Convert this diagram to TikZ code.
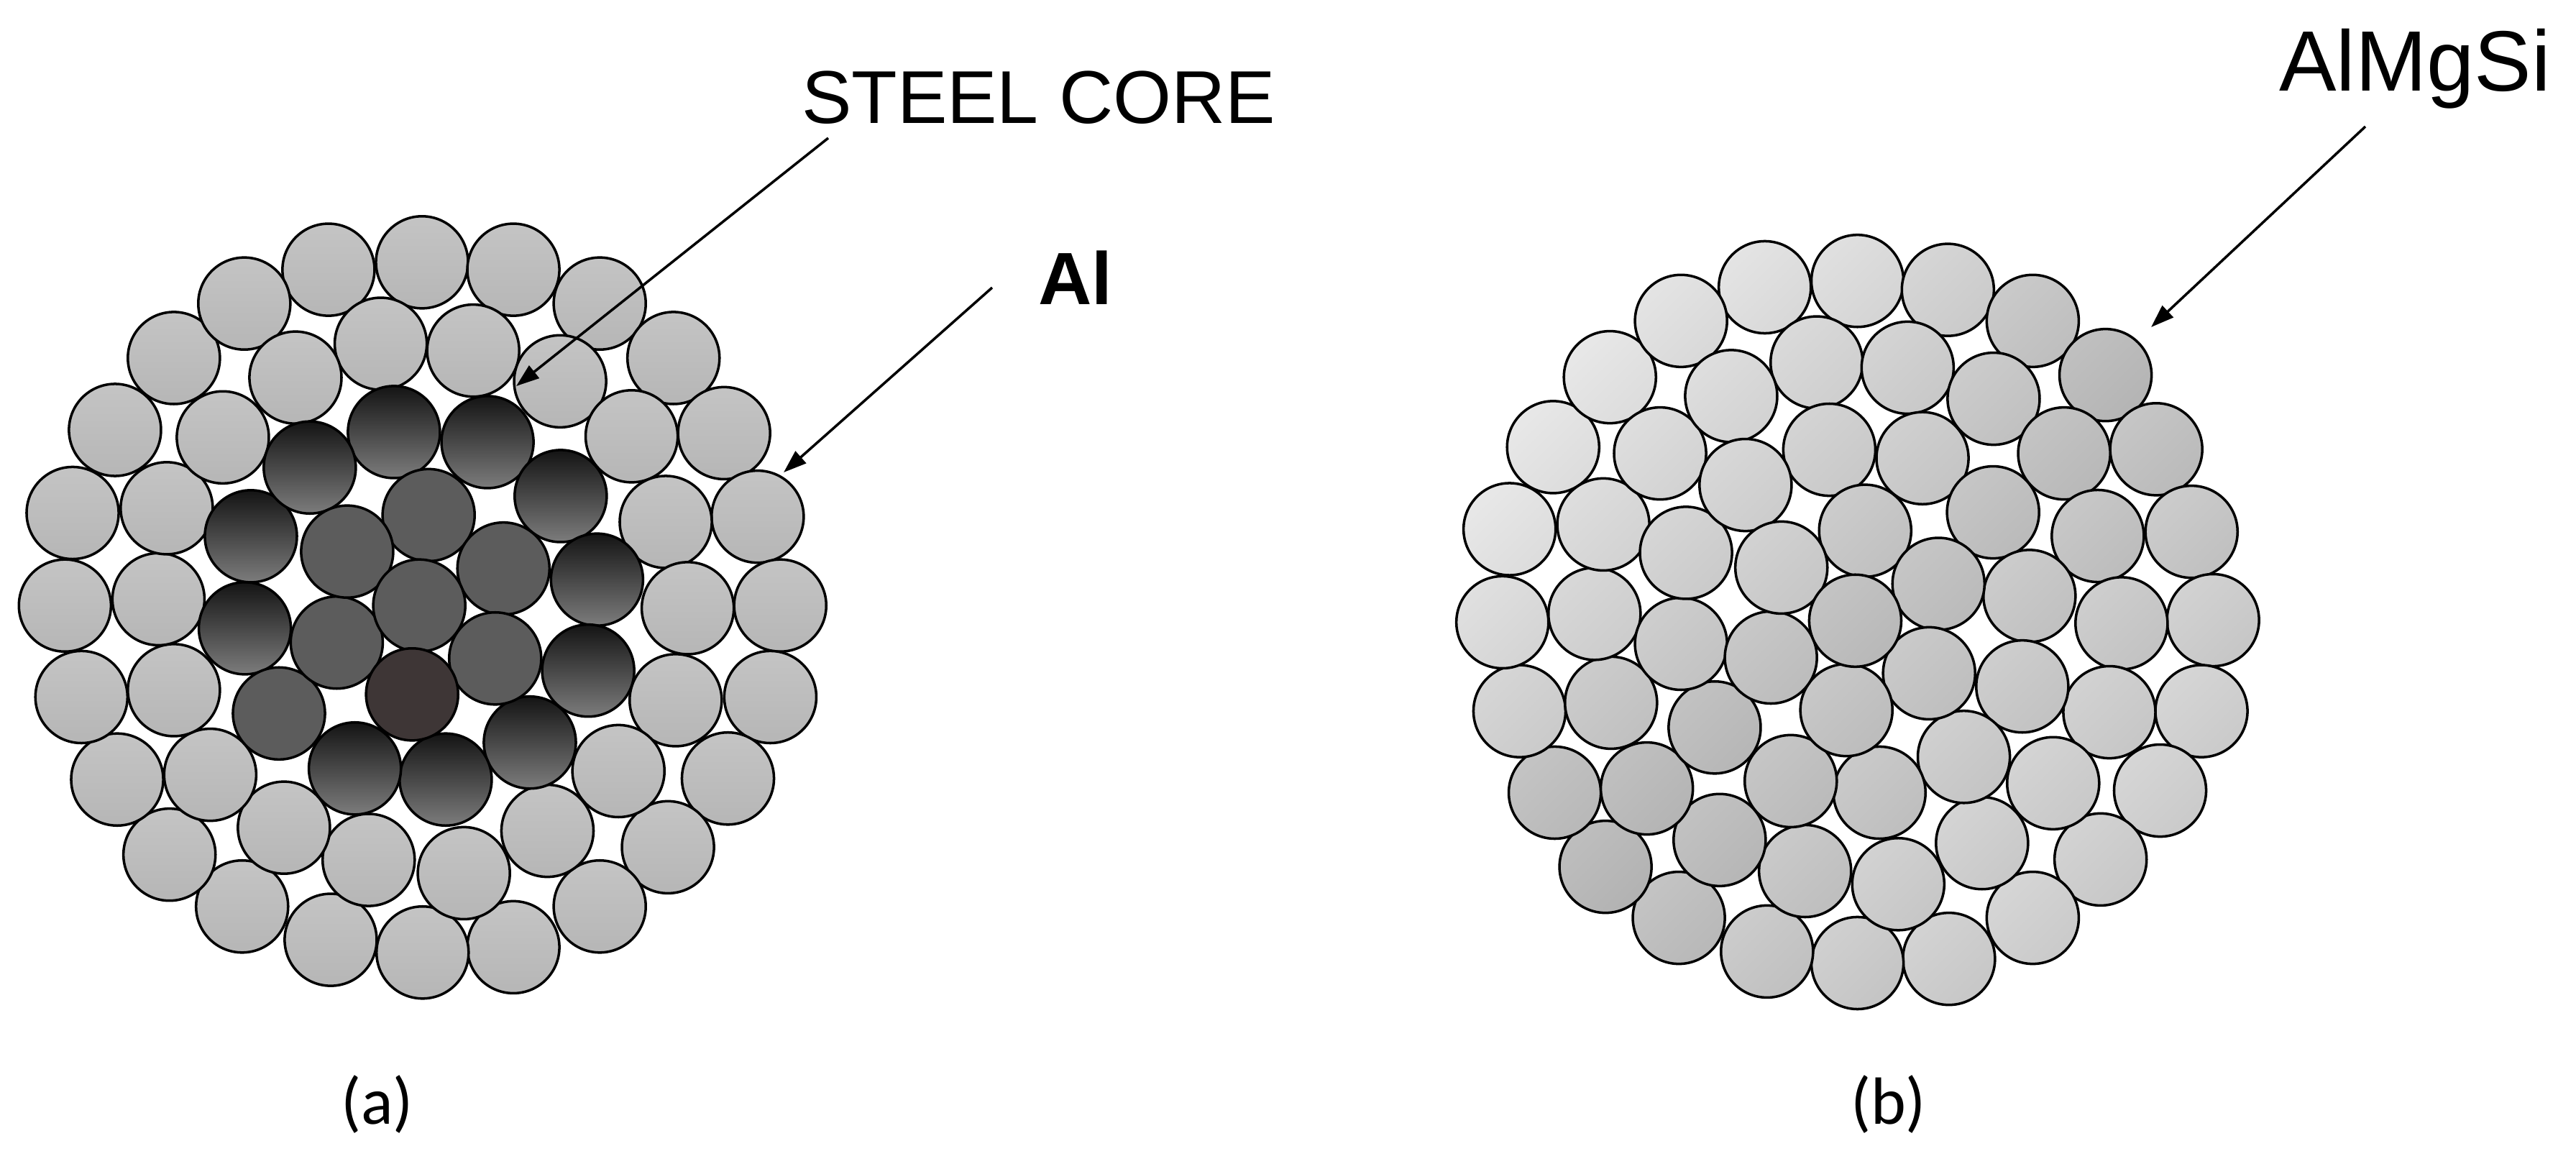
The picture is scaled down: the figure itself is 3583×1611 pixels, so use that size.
\documentclass[tikz,border=0pt]{standalone}
\usepackage{fontspec}
\setmainfont{Liberation Sans}
\newfontfamily\capfont{Carlito}
\usetikzlibrary{arrows.meta}
\definecolor{lighttop}{RGB}{196,196,196}
\definecolor{lightmid}{RGB}{216,216,216}
\definecolor{lightbot}{RGB}{182,182,182}
\definecolor{darktop}{RGB}{20,20,20}
\definecolor{darkmid}{RGB}{88,88,88}
\definecolor{darkbot}{RGB}{124,124,124}
\definecolor{flatdark}{RGB}{92,92,92}
\definecolor{coredark}{RGB}{62,54,54}
\tikzset{
  strand/.style={circle,draw=black,line width=1pt,minimum size=1.28cm,inner sep=0pt,outer sep=0pt},
  alstrand/.style={strand,shading=axis,top color=lighttop,middle color=lightmid,bottom color=lightbot},
  steelstrand/.style={strand,shading=axis,top color=darktop,middle color=darkmid,bottom color=darkbot},
  flatstrand/.style={strand,fill=flatdark},
  corestrand/.style={strand,fill=coredark},
  pointer/.style={line width=1pt,-{Triangle[length=0.32cm,width=0.22cm]}},
  lab/.style={anchor=base west,inner sep=0pt,outer sep=0pt}
}
\begin{document}
\begin{tikzpicture}[x=0.01cm,y=-0.01cm]
\useasboundingbox (0,0) rectangle (3583,1611);
\fill[white] (0,0) rectangle (3583,1611);
% (a)
\begin{scope}[shift={(0,278)},xscale=0.7653,yscale=0.7356]
\foreach \x/\y [count=\i] in {597/132,767/118,933/132,1090/196,1224/299,1316/441,1377/599,1418/767,1400/940,1323/1094,1214/1224,1090/1336,933/1413,768/1423,601/1399,440/1336,308/1238,213/1096,148/940,118/767,132/592,209/435,316/299,444/196,692/272,860/285,1018/343,1148/447,1210/609,1250/772,1228/946,1124/1080,995/1193,843/1273,670/1248,516/1187,382/1087,316/927,288/755,303/583,405/449,537/336}
  \node[alstrand] (al\i) at (\x,\y) {};
\foreach \x/\y [count=\i] in {716/439,886/458,1019/560,1085/718,1069/890,963/1026,810/1096,645/1075,445/810,456/636,563/506}
  \node[steelstrand] (st\i) at (\x,\y) {};
\node[flatstrand] (fl0) at (507,971) {};
\foreach \x/\y [count=\i] in {779/596,915/697,900/867,612/837,631/665,762/767}
  \node[flatstrand] (fl\i) at (\x,\y) {};
\node[corestrand] (core) at (749,935) {};
\end{scope}
% (b)
\begin{scope}[shift={(2000,300)},xscale=0.7668,yscale=0.7315]
\foreach \x/\y/\gv [count=\i] in {593/136/222,761/124/218,925/141/208,1079/200/196,1211/303/186,1303/444/192,1367/601/198,1406/769/204,1385/942/208,1310/1093/208,1202/1224/205,1079/1335/208,927/1413/205,761/1421/202,597/1399/198,437/1335/190,304/1238/184,212/1097/190,148/942/208,117/773/218,130/596/226,209/440/226,312/307/226,441/200/222,687/279/212,852/289/206,1008/348/198,1136/452/190,1197/609/194,1240/775/200,1218/944/204,1116/1079/206,987/1193/206,835/1271/204,666/1246/196,511/1187/188,379/1089/186,314/926/198,284/757/210,300/587/216,403/452/216,532/343/216,710/445/206,879/461/202,1007/564/192,1073/723/198,1060/895/200,954/1029/202,801/1097/196,640/1075/192,502/973/188,441/814/200,450/641/208,558/512/210,775/599/198,908/700/192,891/870/196,741/940/194,604/840/194,623/669/204,757/770/190}{
  \pgfmathtruncatemacro\ga{\gv+6}
  \pgfmathtruncatemacro\gb{\gv-6}
  \definecolor{tmpa}{RGB}{\ga,\ga,\ga}
  \definecolor{tmpb}{RGB}{\gb,\gb,\gb}
  \node[strand,shading=axis,top color=tmpa,bottom color=tmpb,shading angle=45] (mg\i) at (\x,\y) {};
}
\end{scope}
% labels
\node[lab,font=\fontsize{29.6pt}{30pt}\selectfont] (steel) at (1115,171) {STEEL CORE};
\node[lab,font=\fontsize{29.3pt}{30pt}\selectfont\bfseries] (allabel) at (1444,423) {Al};
\node[lab,font=\fontsize{33.9pt}{34pt}\selectfont] (almgsi) at (3170,126) {AlMgSi};
\node[lab,font=\capfont\fontsize{26.4pt}{27pt}\selectfont] (capa) at (474,1563) {(a)};
\node[lab,font=\capfont\fontsize{26.4pt}{27pt}\selectfont] (capb) at (2574,1563) {(b)};
% pointers
\coordinate (steelstart) at (1152,192);
\coordinate (steeltip) at (718,537);
\coordinate (alstart) at (1380,400);
\coordinate (altip) at (1090,657);
\coordinate (mgstart) at (3290,176);
\coordinate (mgtip) at (2992,455);
\draw[pointer] (steelstart) -- (steeltip);
\draw[pointer] (alstart) -- (altip);
\draw[pointer] (mgstart) -- (mgtip);
\end{tikzpicture}
\end{document}
